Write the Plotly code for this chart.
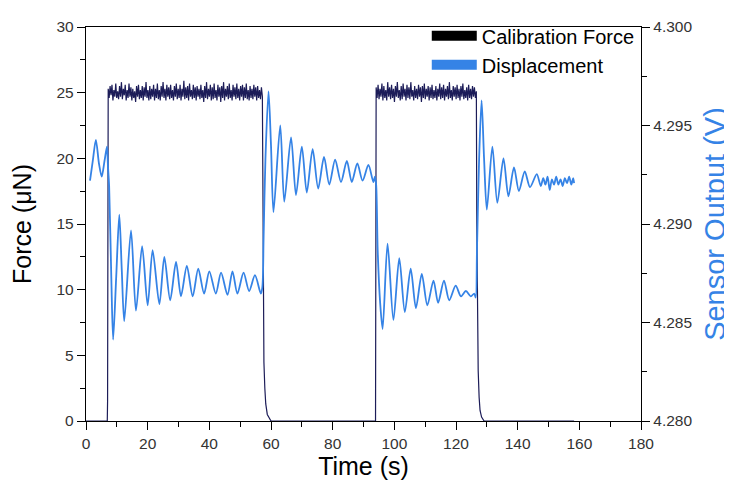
import numpy as np
import plotly.graph_objects as go

# ---------------- data ----------------
# Calibration force (uN): off / plateau / release segments
force_t_rise1 = [0.0, 6.9, 7.0, 7.15]
force_v_rise1 = [0.0, 0.0, 1.5, 25.0]
force_plateau1 = [25.3, 24.6, 25.5, 24.8, 25.6, 24.4, 25.2, 24.7, 25.7, 24.6,
                  25.1, 24.5, 25.5, 24.7, 25.8, 24.5, 25.3, 24.8, 25.6, 24.4,
                  25.2, 24.6, 25.7, 24.7, 25.4, 24.4, 25.3, 24.6, 25.1, 24.3,
                  25.5, 24.7, 25.6, 24.5, 25.2, 24.6, 25.5, 24.4, 25.4, 24.7,
                  25.8, 24.6, 25.2, 24.4, 25.5, 24.5, 25.3, 24.7, 25.6, 24.4,
                  25.3, 24.6, 25.7, 24.5, 25.2, 24.4, 25.5, 24.7, 25.8, 24.6,
                  25.3, 24.4, 25.6, 24.7, 25.4, 24.5, 25.6, 24.6, 25.2, 24.4,
                  25.5, 24.7, 25.7, 24.5, 25.3, 24.6, 25.6, 24.4, 25.3, 24.7,
                  25.9, 24.5, 25.4, 24.6, 25.5, 24.4, 25.7, 24.7, 25.2, 24.5,
                  25.6, 24.6, 25.4, 24.4, 25.5, 24.7, 25.3, 24.5, 25.6, 24.6,
                  25.2, 24.3, 25.5, 24.6, 25.8, 24.5, 25.3, 24.7, 25.6, 24.4,
                  25.4, 24.5, 25.7, 24.6, 25.2, 24.4, 25.6, 24.7, 25.4, 24.3,
                  25.5, 24.6, 25.8, 24.4, 25.3, 24.7, 25.5, 24.5, 25.7, 24.6,
                  25.2, 24.4, 25.6, 24.7, 25.4, 24.5, 25.7, 24.6, 25.3, 24.4,
                  25.5, 24.7, 25.6, 24.4, 25.4, 24.6, 25.7, 24.5, 25.2, 24.4,
                  25.5, 24.6, 25.3, 24.5, 25.6, 24.7, 25.4, 24.4, 25.5, 24.6,
                  25.2, 24.5, 25.4, 24.7]
force_plateau1_span = [7.2, 57.2]
force_t_fall1 = [57.35, 57.5, 57.7, 58.0, 58.3, 58.8, 59.4, 60.0, 93.9, 94.0]
force_v_fall1 = [15.0, 7.0, 4.5, 2.5, 1.3, 0.5, 0.2, 0.0, 0.0, 25.0]
force_plateau2 = [25.4, 24.6, 25.6, 24.5, 25.3, 24.7, 25.7, 24.4, 25.5, 24.6,
                  25.2, 24.4, 25.8, 24.7, 25.4, 24.5, 25.6, 24.6, 25.3, 24.3,
                  25.5, 24.7, 25.8, 24.6, 25.2, 24.4, 25.5, 24.5, 25.7, 24.7,
                  25.3, 24.4, 25.6, 24.6, 25.4, 24.5, 25.8, 24.7, 25.2, 24.4,
                  25.5, 24.6, 25.3, 24.5, 25.6, 24.7, 25.4, 24.3, 25.5, 24.6,
                  25.7, 24.5, 25.3, 24.7, 25.5, 24.4, 25.4, 24.6, 25.6, 24.5,
                  25.2, 24.6, 25.5, 24.4, 25.3, 24.7, 25.7, 24.5, 25.4, 24.6,
                  25.6, 24.4, 25.3, 24.7, 25.5, 24.5, 25.8, 24.6, 25.2, 24.4,
                  25.5, 24.7, 25.4, 24.5, 25.6, 24.6, 25.3, 24.4, 25.5, 24.7,
                  25.7, 24.5, 25.2, 24.6, 25.4, 24.4, 25.6, 24.6, 25.3, 24.5,
                  25.5, 24.7, 25.4, 24.6, 25.1]
force_plateau2_span = [94.1, 126.6]
force_t_fall2 = [126.75, 127.0, 127.2, 127.5, 127.8, 128.3, 129.1, 158.3]
force_v_fall2 = [15.0, 6.0, 3.8, 1.8, 0.8, 0.3, 0.0, 0.0]

# Displacement, sensor output (V)
disp_t = [1.3, 2.2, 3.2, 4.2, 5.1, 6.0, 6.8, 7.1, 7.5, 8.2, 8.8, 9.8, 10.8, 11.6,
          12.4, 14.6, 16.2, 18.2, 20.0, 21.6, 23.8, 25.4, 27.3, 29.2, 30.8, 32.7,
          34.6, 36.4, 38.3, 40.0, 42.1, 43.8, 45.9, 47.5, 49.1, 51.1, 52.9, 54.8,
          56.7, 57.2, 57.6, 58.2, 59.2, 60.0, 60.8, 63.0, 64.3, 66.5, 68.1, 70.0,
          71.6, 73.5, 75.3, 77.2, 78.9, 80.8, 82.7, 84.6, 86.2, 88.0, 89.7, 91.6,
          93.2, 93.7, 94.1, 94.6, 95.4, 96.2, 97.8, 99.7, 101.6, 103.4, 105.3,
          107.0, 108.9, 110.7, 112.7, 114.2, 116.1, 117.8, 119.9, 121.6, 123.2,
          124.8, 125.9, 126.4, 126.8, 127.5, 128.3, 129.1, 130.0, 131.8, 133.4,
          135.4, 137.0, 138.8, 140.4, 142.3, 144.0, 146.2, 147.5, 148.3, 149.0,
          149.7, 150.4, 151.1, 151.8, 152.5, 153.2, 153.9, 154.6, 155.3, 156.0,
          156.7, 157.4, 158.0, 158.3]
disp_v = [4.29220, 4.29320, 4.29427, 4.29307, 4.29240, 4.29320, 4.29393, 4.29300,
          4.29193, 4.28733, 4.28413, 4.28733, 4.29047, 4.28767, 4.28507, 4.28967,
          4.28560, 4.28887, 4.28587, 4.28867, 4.28593, 4.28833, 4.28613, 4.28807,
          4.28633, 4.28787, 4.28633, 4.28773, 4.28647, 4.28760, 4.28647, 4.28753,
          4.28640, 4.28760, 4.28647, 4.28753, 4.28660, 4.28740, 4.28647, 4.28680,
          4.28933, 4.29333, 4.29673, 4.29400, 4.29060, 4.29500, 4.29113, 4.29440,
          4.29147, 4.29393, 4.29160, 4.29380, 4.29180, 4.29340, 4.29200, 4.29327,
          4.29213, 4.29320, 4.29213, 4.29307, 4.29220, 4.29300, 4.29213, 4.29240,
          4.29200, 4.28867, 4.28600, 4.28467, 4.28900, 4.28513, 4.28827, 4.28553,
          4.28773, 4.28573, 4.28747, 4.28587, 4.28713, 4.28600, 4.28713, 4.28613,
          4.28687, 4.28633, 4.28660, 4.28633, 4.28647, 4.28627, 4.28867, 4.29333,
          4.29627, 4.29333, 4.29073, 4.29393, 4.29107, 4.29333, 4.29140, 4.29287,
          4.29167, 4.29267, 4.29187, 4.29253, 4.29193, 4.29233, 4.29200, 4.29240,
          4.29173, 4.29227, 4.29200, 4.29240, 4.29200, 4.29227, 4.29193, 4.29233,
          4.29207, 4.29240, 4.29200, 4.29233, 4.29207]

x_ticks = [0, 20, 40, 60, 80, 100, 120, 140, 160, 180]
y_ticks = [0, 5, 10, 15, 20, 25, 30]
y2_ticks = [4.280, 4.285, 4.290, 4.295, 4.300]

# ---------------- assemble force trace ----------------
p1_t = np.linspace(force_plateau1_span[0], force_plateau1_span[1], len(force_plateau1))
p2_t = np.linspace(force_plateau2_span[0], force_plateau2_span[1], len(force_plateau2))
force_t = list(force_t_rise1) + list(p1_t) + force_t_fall1 + list(p2_t) + force_t_fall2
force_v = list(force_v_rise1) + force_plateau1 + force_v_fall1 + force_plateau2 + force_v_fall2

FORCE_COLOR = "#1c1c58"
DISP_COLOR = "#3583e6"
FONT = "Arial, Liberation Sans, sans-serif"

fig = go.Figure()
fig.add_trace(go.Scatter(x=disp_t, y=disp_v, mode="lines", yaxis="y2",
                         line=dict(color=DISP_COLOR, width=1.8, shape="spline", smoothing=0.8),
                         showlegend=False, name="Displacement"))
fig.add_trace(go.Scatter(x=force_t, y=force_v, mode="lines",
                         line=dict(color=FORCE_COLOR, width=1.2),
                         showlegend=False, name="Calibration Force"))
# legend entries
fig.add_trace(go.Scatter(x=[None], y=[None], mode="lines", name="Calibration Force",
                         line=dict(color="black", width=12)))
fig.add_trace(go.Scatter(x=[None], y=[None], mode="lines", name="Displacement",
                         line=dict(color=DISP_COLOR, width=12)))

axis_common = dict(showline=True, linecolor="black", linewidth=1.4, ticks="outside",
                   ticklen=8, tickwidth=1.3, tickcolor="black", showgrid=False,
                   zeroline=False, automargin=False,
                   tickfont=dict(size=15.5, color="#333333", family=FONT))

# the page body adds an 8px offset, so the figure is sized/margined to compensate
fig.update_layout(
    width=724, height=477,
    margin=dict(l=78, r=91, t=8, b=64),
    paper_bgcolor="white", plot_bgcolor="white",
    font=dict(family=FONT, color="black"),
    xaxis=dict(range=[0, 180], tickvals=x_ticks, mirror=True,
               minor=dict(dtick=10, ticks="outside", ticklen=5, tickcolor="black"),
               title=dict(text="Time (s)", font=dict(size=25), standoff=4),
               **axis_common),
    yaxis=dict(range=[0, 30], tickvals=y_ticks, mirror=False,
               minor=dict(dtick=2.5, ticks="outside", ticklen=5, tickcolor="black"),
               title=dict(text="Force (μN)", font=dict(size=25), standoff=20),
               **axis_common),
    yaxis2=dict(range=[4.280, 4.300], tickvals=y2_ticks, tickformat=".3f",
                overlaying="y", side="right",
                minor=dict(dtick=0.0025, ticks="outside", ticklen=5, tickcolor="black"),
                title=dict(text="Sensor Output (V)", font=dict(size=29, color=DISP_COLOR), standoff=13),
                **axis_common),
    legend=dict(x=0.614, y=1.027, xanchor="left", yanchor="top",
                bgcolor="rgba(0,0,0,0)", borderwidth=0,
                font=dict(size=20, family=FONT, color="black"),
                itemwidth=45, tracegroupgap=0),
)

fig.write_html("out.html")
